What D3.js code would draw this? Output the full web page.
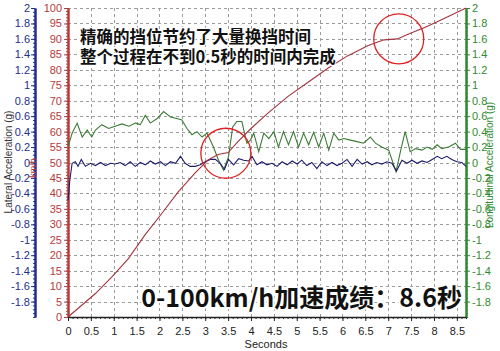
<!DOCTYPE html>
<html>
<head>
<meta charset="utf-8">
<script src="https://cdn.jsdelivr.net/npm/d3@7"></script>
<style>
  body { margin: 0; background: #fff; }
  svg { display: block; font-family: "Liberation Sans", Arial, sans-serif; }
</style>
</head>
<body>
<div class="displayArea"></div>
<script>
// tick labels
var xTicks = [0, 0.5, 1, 1.5, 2, 2.5, 3, 3.5, 4, 4.5, 5, 5.5, 6, 6.5, 7, 7.5, 8, 8.5]
var gTicks = [2, 1.8, 1.6, 1.4, 1.2, 1, 0.8, 0.6, 0.4, 0.2, 0, -0.2, -0.4, -0.6, -0.8, -1, -1.2, -1.4, -1.6, -1.8]
var speedTicks = [0, 5, 10, 15, 20, 25, 30, 35, 40, 45, 50, 55, 60, 65, 70, 75, 80, 85, 90, 95, 100]

// speed (km/h) vs seconds
var speedTime = [0, 0.6, 0.96, 1.32, 1.68, 2.05, 2.41, 2.77, 3.06, 3.28, 3.5, 3.72, 4.0, 4.37, 4.81, 5.24, 5.68, 6.11, 6.55, 6.91, 7.2, 7.42, 7.86, 8.29, 8.7]
var speedKmh = [0, 7.6, 13, 18.9, 26.5, 33.5, 40.5, 46.5, 50.8, 52.6, 53.2, 56.8, 61, 66, 71.4, 75.9, 80.5, 84.5, 87.8, 89.7, 90, 91.4, 94.1, 97.1, 100]

// lateral acceleration (g)
var latTime = [0, 0.04, 0.09, 0.16, 0.22, 0.29, 0.38, 0.49, 0.60, 0.71, 0.82, 0.93, 1.03, 1.14, 1.25, 1.36, 1.47, 1.58, 1.69, 1.80,
  1.91, 2.02, 2.13, 2.24, 2.35, 2.46, 2.56, 2.67, 2.78, 2.89, 3.00, 3.11, 3.22, 3.33, 3.42, 3.51, 3.62, 3.73, 3.84, 3.95,
  4.02, 4.13, 4.24, 4.35, 4.46, 4.57, 4.68, 4.79, 4.90, 5.01, 5.11, 5.22, 5.33, 5.44, 5.55, 5.66, 5.77, 5.88, 5.99, 6.10,
  6.21, 6.32, 6.43, 6.54, 6.64, 6.75, 6.86, 6.97, 7.08, 7.18, 7.30, 7.41, 7.52, 7.63, 7.74, 7.85, 7.96, 8.07, 8.17, 8.28,
  8.39, 8.50, 8.61, 8.70]
var latG = [-0.49, -0.23, -0.01, 0.01, -0.05, 0.04, -0.05, -0.01, -0.04, 0.00, -0.04, -0.01, -0.02, 0.00, -0.04, 0.01, -0.05, 0.00, -0.03, 0.02,
  -0.02, 0.01, -0.04, 0.01, -0.01, 0.08, -0.01, -0.05, -0.05, -0.03, 0.01, 0.04, 0.04, -0.01, -0.09, 0.04, -0.03, 0.05, 0.03, 0.02,
  0.08, -0.03, 0.01, -0.03, -0.01, -0.05, 0.01, -0.03, 0.02, -0.02, 0.03, -0.04, 0.00, -0.08, 0.01, -0.04, 0.00, -0.04, -0.01, 0.04,
  -0.05, 0.04, -0.02, 0.01, -0.03, 0.00, -0.02, 0.01, -0.01, -0.11, 0.03, -0.01, 0.03, -0.01, 0.02, 0.00, 0.04, 0.08, 0.05, 0.08,
  0.04, 0.01, 0.00, -0.05]

// longitudinal acceleration (g)
var lonTime = [0, 0.09, 0.20, 0.31, 0.42, 0.52, 0.60, 0.74, 0.89, 1.03, 1.18, 1.33, 1.47, 1.58, 1.69, 1.80, 1.95, 2.09, 2.24, 2.38,
  2.49, 2.60, 2.71, 2.82, 2.93, 3.04, 3.18, 3.29, 3.40, 3.51, 3.60, 3.69, 3.80, 3.91, 3.99, 4.06, 4.17, 4.28, 4.39, 4.50,
  4.60, 4.71, 4.82, 4.93, 5.04, 5.15, 5.26, 5.37, 5.48, 5.59, 5.70, 5.81, 5.92, 6.03, 6.17, 6.32, 6.46, 6.61, 6.72, 6.86,
  7.01, 7.17, 7.27, 7.37, 7.48, 7.60, 7.74, 7.85, 7.96, 8.07, 8.17, 8.32, 8.47, 8.58, 8.70]
var lonG = [0.20, 0.38, 0.51, 0.33, 0.42, 0.33, 0.42, 0.49, 0.44, 0.47, 0.50, 0.47, 0.51, 0.49, 0.61, 0.51, 0.57, 0.66, 0.59, 0.57,
  0.55, 0.44, 0.36, 0.40, 0.33, 0.38, 0.20, 0.03, -0.10, 0.08, 0.46, 0.53, 0.53, 0.25, 0.29, 0.38, 0.14, 0.38, 0.31, 0.40,
  0.20, 0.40, 0.23, 0.40, 0.20, 0.38, 0.23, 0.39, 0.20, 0.38, 0.16, 0.38, 0.29, 0.31, 0.29, 0.27, 0.25, 0.33, 0.25, 0.20,
  0.16, -0.12, 0.15, 0.40, 0.14, 0.18, 0.16, 0.20, 0.17, 0.23, 0.18, 0.20, 0.25, 0.17, 0.17]

// gear-change circles (seconds, km/h)
var shiftTime = [3.45, 7.23]
var shiftKmh = [53, 90]

var noteLines = ["精确的挡位节约了大量换挡时间", "整个过程在不到0.5秒的时间内完成"]
var resultText = "0-100km/h加速成绩：8.6秒"

var width = 500, height = 351,
    plotLeft = 68, plotRight = 466, plotTop = 8, plotBottom = 317 // plot edges

var red = "#b73a3a", blue = "#1f2e8e", green = "#2f8a2f"

var xScale = d3.scaleLinear().domain([0, 8.7]).range([plotLeft, plotRight])
var ySpeed = d3.scaleLinear().domain([0, 100]).range([plotBottom, plotTop])
var yG = d3.scaleLinear().domain([-2, 2]).range([plotBottom, plotTop])

var svg = d3.select(".displayArea").append("svg")
    .attr("width", width)
    .attr("height", height)

svg.append("rect").attr("width", width).attr("height", height).attr("fill", "#fff")

// dashed grid
var grid = svg.append("g").attr("stroke", "#9c9c9c").attr("stroke-dasharray", "3,3").attr("stroke-width", 1)
grid.selectAll(".v").data(xTicks.slice(1)).enter().append("line")
    .attr("x1", d => Math.round(xScale(d)) + 0.5).attr("x2", d => Math.round(xScale(d)) + 0.5)
    .attr("y1", plotTop).attr("y2", plotBottom)
grid.selectAll(".h").data(speedTicks.slice(1)).enter().append("line")
    .attr("x1", plotLeft).attr("x2", plotRight)
    .attr("y1", d => Math.round(ySpeed(d)) + 0.5).attr("y2", d => Math.round(ySpeed(d)) + 0.5)

// axes
function styleAxis(g, colour, lineWidth){
    g.select(".domain").attr("stroke", colour).attr("stroke-width", lineWidth)
    g.selectAll(".tick line").attr("stroke", colour)
    g.selectAll(".tick text").attr("fill", colour).style("font-size", "11px")
        .style("font-family", "'Liberation Sans', Arial, sans-serif")
}
var fmt = d => String(d)

// minor ticks
svg.append("g").attr("transform", "translate(35,0)")
    .call(d3.axisLeft(yG).ticks(80).tickSize(2).tickFormat("").tickSizeOuter(0))
    .call(g => styleAxis(g, blue, 2))
svg.append("g").attr("transform", `translate(${plotLeft},0)`)
    .call(d3.axisLeft(ySpeed).ticks(100).tickSize(2).tickFormat("").tickSizeOuter(0))
    .call(g => styleAxis(g, red, 2))
svg.append("g").attr("transform", `translate(${plotRight},0)`)
    .call(d3.axisRight(yG).ticks(80).tickSize(2).tickFormat("").tickSizeOuter(0))
    .call(g => styleAxis(g, green, 2))
svg.append("g").attr("transform", `translate(0,${plotBottom})`)
    .call(d3.axisBottom(xScale).ticks(87).tickSize(2).tickFormat("").tickSizeOuter(0))
    .call(g => styleAxis(g, "#222", 1))

// major ticks + labels
svg.append("g").attr("transform", "translate(35,0)")
    .call(d3.axisLeft(yG).tickValues(gTicks).tickFormat(fmt).tickSize(4).tickPadding(1).tickSizeOuter(0))
    .call(g => styleAxis(g, blue, 2))
svg.append("g").attr("transform", `translate(${plotLeft},0)`)
    .call(d3.axisLeft(ySpeed).tickValues(speedTicks).tickFormat(fmt).tickSize(4).tickPadding(2).tickSizeOuter(0))
    .call(g => styleAxis(g, red, 2))
svg.append("g").attr("transform", `translate(${plotRight},0)`)
    .call(d3.axisRight(yG).tickValues(gTicks).tickFormat(fmt).tickSize(4).tickPadding(2).tickSizeOuter(0))
    .call(g => styleAxis(g, green, 2))
svg.append("g").attr("transform", `translate(0,${plotBottom})`)
    .call(d3.axisBottom(xScale).tickValues(xTicks).tickFormat(fmt).tickSize(4).tickPadding(6).tickSizeOuter(0))
    .call(g => styleAxis(g, "#222", 1.5))

// axis titles
svg.append("text").attr("transform", "translate(12,162) rotate(-90)")
    .attr("text-anchor", "middle").attr("fill", "#333").style("font-size", "10px")
    .text("Lateral Acceleration (g)")
svg.append("text").attr("transform", "translate(36,168) rotate(-90)")
    .attr("text-anchor", "middle").attr("fill", red).style("font-size", "9px")
    .text("km/h")
svg.append("text").attr("transform", "translate(493,165) rotate(-90)")
    .attr("text-anchor", "middle").attr("fill", green).style("font-size", "10px")
    .text("Longitudinal Acceleration (g)")
svg.append("text").attr("x", 266).attr("y", 348)
    .attr("text-anchor", "middle").attr("fill", "#222").style("font-size", "11px")
    .text("Seconds")

// series
var plot = svg.append("g")
var line = d3.line()

plot.append("path")
    .attr("d", line(d3.zip(lonTime, lonG).map(d => [xScale(d[0]), yG(d[1])])))
    .attr("fill", "none").attr("stroke", "#3b7d34").attr("stroke-width", 1.1)
plot.append("path")
    .attr("d", line(d3.zip(latTime, latG).map(d => [xScale(d[0]), yG(d[1])])))
    .attr("fill", "none").attr("stroke", "#1d1d6b").attr("stroke-width", 1.1)
plot.append("path")
    .attr("d", line(d3.zip(speedTime, speedKmh).map(d => [xScale(d[0]), ySpeed(d[1])])))
    .attr("fill", "none").attr("stroke", "#a3343f").attr("stroke-width", 1.1)

// red circles
plot.selectAll(".shift").data(d3.zip(shiftTime, shiftKmh)).enter().append("circle")
    .attr("cx", d => xScale(d[0])).attr("cy", d => ySpeed(d[1])).attr("r", 25)
    .attr("fill", "none").attr("stroke", "#e02020").attr("stroke-width", 1.3)

// annotations
var cjk = "'Noto Sans CJK SC', 'Noto Sans', sans-serif"
svg.selectAll(".note").data(noteLines).enter().append("text")
    .attr("x", 80).attr("y", (d, i) => 43 + i * 20)
    .style("font-family", cjk).style("font-weight", "bold").style("font-size", "16.5px")
    .attr("fill", "#111").attr("stroke", "#fff").attr("stroke-width", 2.5).attr("paint-order", "stroke")
    .text(d => d)

svg.append("text").attr("x", 462).attr("y", 307).attr("text-anchor", "end")
    .style("font-family", cjk).style("font-weight", "bold").style("font-size", "25px")
    .attr("fill", "#111").attr("stroke", "#fff").attr("stroke-width", 4).attr("paint-order", "stroke")
    .text(resultText)
</script>
</body>
</html>
